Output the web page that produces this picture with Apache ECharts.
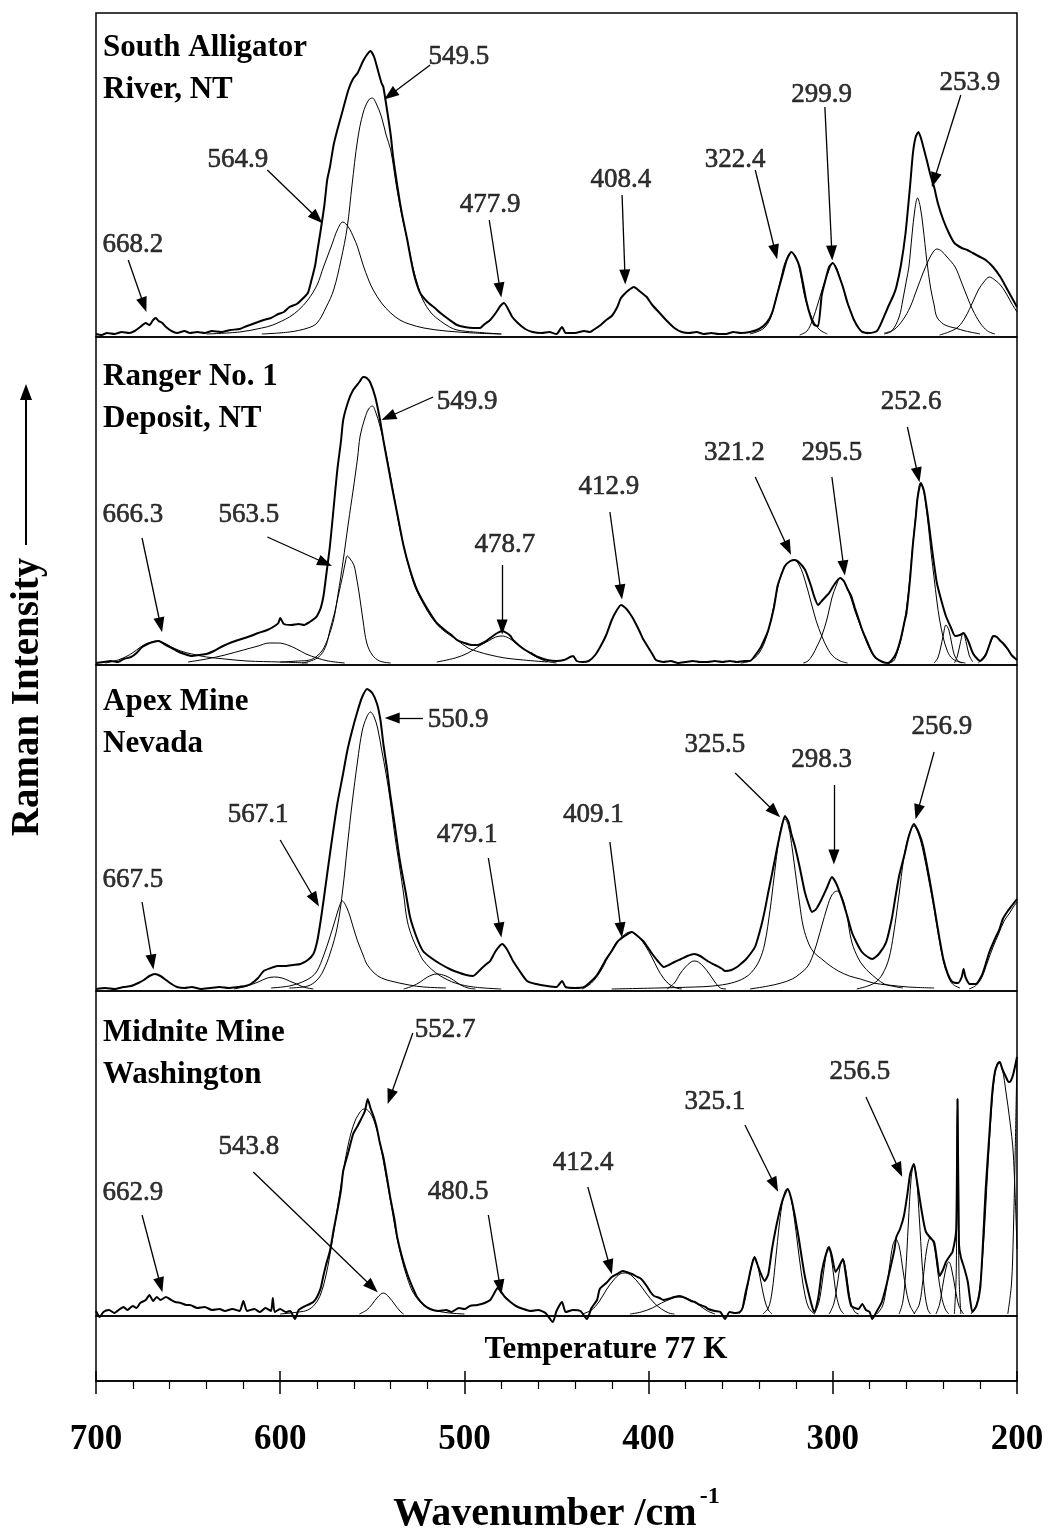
<!DOCTYPE html>
<html><head><meta charset="utf-8">
<script src="https://cdn.jsdelivr.net/npm/echarts@6/dist/echarts.min.js"></script>
<style>html,body{margin:0;padding:0;background:#fff}#c{width:1048px;height:1533px}</style>
</head><body><div id="c"></div>
<script>
const FONT = '"Liberation Serif", "Times New Roman", serif';

const xTickValues = [700, 600, 500, 400, 300, 200];
const panelTitles = ['South Alligator\nRiver, NT', 'Ranger No. 1\nDeposit, NT', 'Apex Mine\nNevada', 'Midnite Mine\nWashington'];

// ---------- Panel 1 : South Alligator River ----------
const p1Observed = [[700,1],[697,0],[694,2],[690,1],[686,3],[682,2],[679,4],[676,8],[673,12],[671,10],[669,15],[667.5,17],[666,14],[664,12],[662,8],[659,4],[656,2],[652,4],[649,2],[645,3],[641,2],[637,4],[632,3],[627,5],[622,6],[618,9],[615,11],[612,13],[609,15],[605,17],[601,21],[598,23],[595,28],[591,31],[588,36],[585,42],[583,55],[581,70],[580,82],[578,105],[576,130],[574.5,155],[573,168],[571,190],[569,205],[566,225],[563,245],[560.5,256],[558,262],[555,274],[553,280],[551,284],[549,278],[547,265],[545,252],[544,248],[542,225],[540,200],[538.7,178],[536.5,150],[534,122],[531,95],[529,75],[527,58],[524,42],[520,33],[516,27],[513,22],[508,15],[504,10],[500,8],[495,7],[491.5,7],[489,11],[486,15],[483,22],[480.5,29],[478.5,32],[476,25],[474,18],[471,12],[467,6],[463,3],[458,2],[454,3],[450,1],[447,8],[445,2],[440,2],[435,4],[432,3],[430,5],[426,10],[423,15],[420,19],[417,28],[415,37],[412,43],[410,46],[408,48],[405,44],[403,41],[401,38],[398,30],[394,22],[390,14],[386,7],[382,3],[378,2],[374,3],[370,1],[366,2],[362,1],[358,1],[354,3],[350,2],[345,3],[340,6],[336,12],[333,22],[330,42],[327,62],[325,75],[322.5,83],[320,77],[318,68],[316,50],[314.5,35],[312,18],[310,10],[308,9],[306,40],[304,55],[302,68],[300,72],[298,66],[296,56],[294.5,48],[292,32],[290,22],[288.5,15],[286,7],[284,3],[280,2],[276,4],[273,15],[270,28],[267,40],[265.5,48],[263,70],[260.5,102],[258,150],[256.5,182],[255,198],[253.5,203],[252,196],[250,182],[249,175],[247,160],[245,148],[243,132],[240,115],[237,102],[234,92],[230,87],[227,85],[224,82],[220,78],[217,75],[213,68],[209,58],[206,48],[203,38],[200,28]];
const p1Band5649 = [[640,1],[622,3],[610,7],[604,10],[595,18],[590,25],[585,35],[580,50],[576.5,68],[572,90],[569,105],[566,113],[563,108],[560,97],[558,88],[555,70],[552,55],[549.5,45],[545,32],[540,22],[535,15],[530,11],[522,7],[510,4],[495,2],[480,1]];
const p1Band5495 = [[610,1],[595,3],[585,7],[580,12],[575,28],[571,45],[567,75],[563.6,108],[561,150],[558,195],[555,222],[552,235],[550,237],[548,232],[545,218],[542.5,200],[540,185],[537,150],[534,120],[531,95],[528,68],[525,48],[522.5,35],[518,22],[513,14],[508,8],[504,5],[495,3],[480,1]];
const p1Band3224 = [[345,1],[338,6],[334,16],[331,35],[328,58],[326,72],[322.4,83],[320,78],[318,65],[316,45],[314,30],[312,20],[310,12],[307,5],[303,1]];
const p1Band2999 = [[318,0],[314,4],[311,15],[308,32],[305,50],[302,65],[300,72],[298,67],[296,56],[294,45],[292,32],[290,22],[288,13],[285,5],[281,1]];
const p1Band2539 = [[272,1],[268,4],[264,18],[262,35],[260,55],[258.7,68],[257,100],[255.5,125],[254,137],[252.5,128],[251,108],[249,75],[247,48],[245,30],[243.5,18],[240,11],[236,8],[233.6,7],[228,4],[220,1]];
const p1Band243 = [[272,2],[267,5],[262,15],[258,28],[254.5,45],[251,62],[248,75],[245.5,83],[243.5,86],[241,84],[238,78],[233.6,68],[230,52],[227,38],[224,25],[220,12],[216,4],[212,1]];
const p1Band215 = [[242,0],[237,3],[232,8],[228,18],[224,33],[221,45],[218,53],[215,58],[212,55],[209,50],[206,42],[203,32],[200,23]];
const p1Labels = [[680,90,'668.2'],[623,175,'564.9'],[503,278,'549.5'],[486,130,'477.9'],[415,155,'408.4'],[353,175,'322.4'],[306,240,'299.9'],[225.6,252,'253.9']];
const p1Arrows = [[682.5,75,674,30],[607,165,580,117],[518.6,270,540.3,240],[486.5,115,480.6,45],[414.4,140,412.8,58],[342.1,165,331.2,83],[304.3,228,300.5,82],[230.5,240,245,155]];

// ---------- Panel 2 : Ranger No. 1 Deposit ----------
const p2Observed = [[700,0],[696,1],[692,2],[688,1],[685,4],[681,6],[678,10],[675,16],[672,19],[669,21],[666,22],[663,19],[660,16],[656,12],[652,9],[648,7],[644,8],[640,9],[636,12],[631,17],[626,21],[621,24],[616,27],[612,30],[607,33],[603,37],[601,40],[600,45],[598,39],[594,38],[590,39],[587,38],[584,41],[581,45],[580,47],[578,55],[576.5,67],[575,88],[573,117],[571,155],[569,193],[567,222],[565.8,243],[563,262],[560.4,273],[557,281],[555,286],[553,285],[551,280],[548.4,266],[546,245],[544,223],[541.5,198],[539,173],[536,145],[533,117],[529.5,93],[525.7,73],[522,60],[518,48],[515,40],[510,32],[507,28],[504,23],[500,20],[496,18],[493,18],[489,21],[486,25],[483,29],[479.5,32],[477,30],[475,27],[473.6,23],[470,17],[467,13],[464,10],[460,6],[455,3],[450,2],[446,3],[441,7],[439,2],[436,1],[432.5,2],[429,8],[426,17],[423,28],[420,43],[417.5,52],[415,58],[412,54],[410,49],[408,43],[405,32],[403,24],[401,18],[398,9],[396,3],[392,1],[388,2],[384,0],[380,1],[376,2],[372,1],[368,1],[364,2],[360,1],[356,2],[352,1],[348,2],[345,2],[342,8],[339,16],[337,24],[335,33],[332,55],[330,77],[328,88],[326,97],[323,102],[320.6,103],[318,100],[315,93],[312,78],[310,66],[308,58],[306,62],[304,66],[302,70],[299,79],[296,85],[294,82],[292,74],[290,67],[288,55],[286,44],[284,33],[281,20],[278.6,10],[276.6,5],[273,1],[270,0],[267.9,3],[265.5,10],[263,25],[261,42],[260,50],[258,85],[256.6,117],[255,145],[254,165],[252.2,180],[250.5,172],[248.4,147],[246,112],[243.5,80],[241,62],[238.6,47],[236,36],[233.6,27],[231,28],[229,30],[226.5,22],[224,10],[222,5],[220,2],[217,8],[215,18],[213,27],[211,26],[209,22],[207.7,20],[205,14],[203,8],[200,3]];
const p2Band6663 = [[695,0],[688,3],[682,8],[678,13],[674,18],[670,21],[666.5,22],[663,20],[659,16],[654,12],[648,9],[640,6],[630,4],[618,2],[600,1],[585,0]];
const p2Band605 = [[650,1],[640,4],[630,8],[620,13],[612,17],[606,20],[601,20],[596,18],[591,14],[586,9],[580,5],[574,2],[565,0]];
const p2Band5635 = [[588,0],[582,3],[578,8],[575,18],[573,33],[570.5,50],[568.5,67],[566,88],[564.5,102],[563.6,107],[562,104],[560,98],[559,90],[557,68],[555,42],[553,20],[550,8],[546,2],[540,0]];
const p2Band5499 = [[600,1],[590,2],[584,3],[580,7],[577,13],[574,25],[571,43],[568.5,70],[566,100],[563,140],[560.4,173],[558,205],[556.6,227],[554,245],[552,254],[550,257],[548,250],[546,238],[544,223],[541,195],[538,165],[535.5,138],[533,117],[530,95],[527,77],[522.5,60],[518,46],[513,35],[508,28],[504,23],[498,15],[492,11],[486,8],[478,5],[468,3],[455,1]];
const p2Band4787 = [[515,1],[505,5],[498,10],[492,17],[487,22],[483,26],[479.5,27],[476,25],[472,20],[467,13],[462,7],[456,2],[450,0]];
const p2Band3212 = [[350,0],[345,2],[340,10],[336,26],[333,48],[330,75],[327,93],[324,101],[321.2,103],[318,97],[315,82],[312,62],[309,42],[306,27],[303,15],[300,7],[296,2],[292,0]];
const p2Band2955 = [[316,0],[313.5,2],[311,8],[308.5,17],[306,27],[303,45],[300.5,65],[298,78],[296,85],[294,82],[292,74],[290,64],[288,52],[286,42],[284,32],[281,18],[278.5,9],[276,4],[272,1]];
const p2Band2526 = [[270,0],[267,2],[265.5,8],[263,23],[261,42],[259,70],[257,110],[255,148],[253.5,172],[252.5,180],[251,175],[249.5,158],[248,135],[246.5,108],[245,85],[243.5,62],[242,43],[240,25],[238,13],[236,6],[233,2],[228,0]];
const p2Band239 = [[245,0],[243,5],[241.5,15],[240,28],[238.6,38],[237,33],[235.5,20],[234,8],[232,2],[230,0]];
const p2Band229 = [[234,0],[232.5,6],[231,18],[229.2,30],[227.5,20],[226,8],[224,1]];
const p2Band212 = [[221,0],[218,6],[215.5,15],[213.5,24],[212,27],[210,25],[208,20],[205,13],[202.5,7],[200,3]];
const p2Labels = [[680,148,'666.3'],[617,148,'563.5'],[498.5,261,'549.9'],[478,118,'478.7'],[421.5,176,'412.9'],[353.5,210,'321.2'],[300.5,210,'295.5'],[257.5,261,'252.6']];
const p2Arrows = [[675,125,665,38],[607,126,575.6,100],[517,266,541.3,246],[479.5,98,479.5,36],[421,151,415,71],[342.1,186,324.4,115],[300.5,186,294,95],[259.5,236,253.8,188]];

// ---------- Panel 3 : Apex Mine ----------
const p3Observed = [[700,0],[695,1],[690,0],[685,2],[681,3],[677,6],[674,9],[671,13],[668,15],[665,13],[662,9],[659,5],[656,2],[652,1],[648,2],[643,0],[638,1],[633,2],[628,1],[623,2],[619,3],[616,5],[612,11],[609,18],[605,21],[601.6,23],[597,23],[593,24],[589,25],[585,29],[582,35],[580,47],[578.3,65],[576.5,88],[574.5,115],[572,148],[569,185],[566,214],[563.6,238],[561,258],[558,278],[555.5,292],[552.8,300],[550,296],[547.4,285],[545.5,268],[544,245],[542,220],[540.3,195],[537.5,160],[535,128],[532,98],[529.5,72],[526,52],[522.5,38],[518,31],[513,25],[508,20],[504,17],[499,14],[495.3,13],[491,20],[488,25],[486,28],[483,38],[479.5,45],[477,40],[475,33],[473.6,28],[470,18],[466,8],[461,5],[455,3],[450,2],[447,8],[445,2],[440,1],[435,2],[431,8],[428,14],[426,20],[423,30],[420,38],[417,47],[413,53],[409,57],[406,53],[403,48],[401,43],[398,35],[395,28],[391.7,22],[389,24],[386,27],[382.4,30],[379,33],[375.3,35],[372,33],[368,28],[364,24],[360,20],[358.5,18],[355,19],[352,22],[350,25],[347,30],[344,37],[342,43],[339,62],[337,78],[335,97],[333,115],[330,143],[328,160],[326,173],[324,167],[322.5,155],[320.6,143],[318,122],[315.2,97],[313,84],[311.3,77],[309,80],[306,90],[303,102],[300.5,112],[298,105],[295,90],[292,72],[289.7,57],[287,46],[284.2,37],[281,32],[278.6,30],[275,35],[271,47],[268,70],[266,92],[264,113],[261,135],[258.7,153],[256,165],[253.5,157],[251,143],[248,115],[245,83],[242.5,55],[240,30],[237.5,15],[235,7],[232,6],[230,12],[229,20],[228,12],[225.6,5],[222.4,5],[219,14],[217,25],[215,37],[212,50],[209.5,60],[207.7,70],[205,78],[202.5,84],[200,90]];
const p3Band600 = [[625,0],[618,3],[612,7],[607,11],[603,12],[599,11],[595,8],[591,5],[587.5,2],[582,0]];
const p3Band5671 = [[605,1],[595,3],[588,7],[583,12],[580,18],[576.5,33],[573,52],[570,70],[568,82],[566.3,88],[564,82],[562,72],[560.4,62],[558,48],[555,34],[553,25],[549,16],[545,11],[540,8],[530,4],[522,2],[510,1]];
const p3Band5509 = [[595,1],[585,3],[580,9],[576.7,18],[573,35],[569,62],[566,100],[563.6,142],[561,185],[558,228],[555.5,258],[553,272],[551,277],[549,272],[547,260],[545,240],[542.5,215],[540.3,189],[537.5,150],[535,120],[533,95],[531,68],[528,50],[525,38],[522.5,29],[518,20],[513,13],[505,6],[495,2],[480,0]];
const p3Band515 = [[533,0],[528,3],[524,7],[520,12],[515,15],[510,13],[506,9],[502,4],[498,1],[494,0]];
const p3Band4091 = [[436,0],[431,6],[426,18],[422,32],[418,45],[414,53],[410,57],[406,53],[402,44],[398,31],[395,20],[392,11],[389,5],[385,1],[382,0]];
const p3Band375 = [[390,0],[386,6],[383,15],[380,22],[377,27],[375.3,28],[373,27],[370,22],[367,15],[364,7],[361,1],[358,0]];
const p3Band3255 = [[420,0],[395,1],[375,2],[365,3],[355,6],[348,11],[344,17],[340,28],[337,45],[334,80],[332,110],[330,140],[328,162],[326,170],[324,162],[322,140],[320,112],[318,85],[316,62],[313,45],[310,36],[306,30],[302,24],[297,18],[291,13],[285,10],[278,6],[270,4],[259,2],[245,1]];
const p3Band2983 = [[345,0],[335,3],[328,6],[322,10],[318,15],[313.5,23],[310,38],[308,50],[306,63],[303,82],[300.5,94],[297.8,98],[295,92],[292.5,75],[289.7,47],[286,30],[283,22],[280.4,17],[276,10],[272,5],[268,3],[262,1]];
const p3Band2569 = [[287,0],[281,3],[276.6,7],[273,15],[269.6,30],[267,55],[264,95],[261.5,130],[259,152],[256,163],[253.5,155],[251,138],[248,110],[245,80],[242.5,52],[240,28],[237.5,13],[235,5],[231,1]];
const p3Band200 = [[226,0],[222,4],[219,12],[216,27],[213,42],[210,55],[207,68],[204,76],[202,82],[200,87]];
const p3Labels = [[680,109,'667.5'],[612,174,'567.1'],[503.4,269,'550.9'],[498.5,154,'479.1'],[430,174,'409.1'],[364,244,'325.5'],[306,229,'298.3'],[240.8,262,'256.9']];
const p3Arrows = [[675,87,669.5,27],[600,149,581,89],[522.5,271,539.2,271],[487,131,480.6,59],[421,147,415,59],[353,216,331.5,177],[299.4,204,299.4,132],[245,237,254,177]];

// ---------- Panel 4 : Midnite Mine ----------
const p4Observed = [[700,3],[698,-3],[696,2],[693,4],[690,1],[687,5],[685,7],[683,4],[680,8],[678,6],[676,11],[673,14],[671,19],[669,13],[667,17],[665,14],[662,17],[660,15],[657,12],[654,11],[651,9],[649,9],[645,6],[641,7],[637,4],[633,5],[630,3],[626,5],[622,3],[620,13],[618,3],[614,5],[611,2],[608,6],[605,3],[604,16],[603,2],[600,5],[597,2],[594.6,3],[592,-5],[590,4],[587.5,7],[584,10],[582,12],[580,17],[578,26],[576.7,37],[575,50],[573,63],[571,84],[569,103],[567,124],[565.8,143],[563,162],[560.4,180],[558,188],[556.6,193],[554,203],[552.5,215],[551,206],[549,196],[547.4,185],[546,172],[544,157],[542,136],[540.3,117],[538,95],[536.5,77],[534,58],[531,40],[528,26],[525.7,17],[522,9],[518.6,5],[514,3],[510,4],[507,2],[503,6],[500,5],[497,8],[493,9],[489,11],[486,14],[484,20],[482,26],[480,22],[478,17],[475,12],[472,8],[468,5],[464,3],[460,4],[456,1],[452,-8],[450,3],[447,12],[445,2],[441,4],[437,3],[433.5,-5],[431,6],[428,14],[426.5,25],[423,31],[420,37],[417,40],[414,43],[412,42],[409,40],[406,37],[404,35],[401,28],[399,22],[397,18],[394,16],[392,14],[389.5,15],[386,17],[383,18],[380,16],[377,13],[375,12],[372,9],[369,7],[367.7,5],[364,3],[361,2],[358.5,-5],[356,2],[353,1],[350.5,2],[349,6],[347.5,20],[346,32],[344.5,45],[342.5,57],[341,50],[339,40],[337,33],[335,40],[333,65],[331,85],[329,102],[327.6,112],[326,120],[324.4,125],[322.5,115],[320.6,98],[318.5,76],[317,58],[315.2,38],[313,20],[311,6],[310,2],[308,15],[307,28],[306,42],[304,58],[302,67],[300.5,58],[298.5,42],[296.5,48],[294.5,55],[293,40],[291.5,20],[290,8],[288,6],[286,5],[284,10],[282,4],[280,2],[278.6,-5],[276,3],[273.4,12],[271,28],[269.5,40],[268,52],[266.5,65],[265.5,77],[263.5,85],[261.4,98],[259.5,120],[258,140],[256,150],[254.5,135],[252.2,108],[250.5,90],[249.4,82],[247,76],[245,72],[243.5,55],[242,38],[240,45],[238.6,52],[236.5,58],[235,62],[233,85],[232.3,215],[231.5,70],[230.5,57],[228.5,45],[226.7,32],[225.5,15],[224.2,2],[222,8],[220,25],[218.5,70],[217,125],[215,180],[213.5,220],[212,242],[210.5,250],[209.3,252],[208,245],[206,237],[204.5,232],[203.4,233],[202,240],[200,257]];
const p4Band5527 = [[600,0],[590,2],[585,4],[581,10],[578,20],[575,40],[572,70],[569,105],[566,140],[563,170],[560,190],[557,201],[554.5,205],[552,203],[549,193],[546,172],[543,143],[540,112],[537,80],[534,55],[531,36],[528,22],[524,12],[520,6],[515,3],[508,1],[500,0]];
const p4Band5438 = [[557,0],[553,4],[550,10],[547,17],[544,21],[541,17],[538,10],[535,3],[533,0]];
const p4Band4124 = [[436,0],[431,4],[427,12],[423,24],[419,34],[415.5,40],[412.5,41],[409,38],[405,30],[401,20],[397,11],[393,5],[389,1],[386,0]];
const p4Band385 = [[410,0],[404,2],[398,6],[393,11],[388,15],[384,17],[380,16],[376,13],[372,8],[368,3],[364,0]];
const p4Band343 = [[351,0],[348.5,8],[346,30],[344,50],[342.5,57],[341,50],[339,32],[337,14],[335,4],[333,0]];
const p4Band3251 = [[338,0],[335,6],[333,22],[331,55],[329,90],[327,115],[325,125],[323,118],[321,97],[319,68],[317,40],[315,18],[313,6],[310,0]];
const p4Band303 = [[310,0],[307.5,12],[305.5,35],[304,55],[302.5,67],[301,58],[299.5,38],[298,18],[296,5],[294,0]];
const p4Band295 = [[302,0],[299.5,10],[297.5,30],[296,48],[294.5,55],[293,45],[291.5,25],[290,10],[288,2],[286,0]];
const p4Band265 = [[276,0],[273,8],[271,25],[269,50],[267.5,68],[265.8,75],[264,68],[262,45],[260,22],[258,8],[255.5,0]];
const p4Band2565 = [[264,0],[262,12],[260.5,40],[259,90],[257.5,135],[256,150],[254.5,135],[253,95],[251.5,50],[250,20],[248.5,5],[247,0]];
const p4Band248 = [[256,0],[253,10],[251,35],[249,65],[247,77],[245,68],[243,42],[241,18],[239,5],[237,0]];
const p4Band237 = [[244,0],[242,10],[240,32],[238,50],[237,52],[235.5,45],[233.5,25],[231.5,8],[229,0]];
const p4Band232 = [[234,0],[233,40],[232.3,215],[231.5,40],[230.5,0]];
const p4Band210 = [[225,0],[222,10],[220,30],[218,75],[216,140],[214,200],[212,240],[210,252],[208,245],[206,222],[204,195],[202,160],[200,65]];
const p4Band200 = [[205,0],[203,30],[202,80],[201,160],[200,257]];
const p4Labels = [[680,121,'662.9'],[617,167,'543.8'],[510.5,284,'552.7'],[503.4,122,'480.5'],[435.6,151,'412.4'],[364,212,'325.1'],[285.3,242,'256.5']];
const p4Arrows = [[675,99,665,29],[614.6,142,550,27],[528,281,540.3,217],[487,99,480.6,27],[433,127,421,47],[347.7,189,331.5,129],[282,217,264,144]];

// ---------- build ----------
const panels = [
  {obs: p1Observed, bands: [p1Band5649, p1Band5495, p1Band3224, p1Band2999, p1Band2539, p1Band243, p1Band215], labels: p1Labels, arrows: p1Arrows},
  {obs: p2Observed, bands: [p2Band6663, p2Band605, p2Band5635, p2Band5499, p2Band4787, p2Band3212, p2Band2955, p2Band2526, p2Band239, p2Band229, p2Band212], labels: p2Labels, arrows: p2Arrows},
  {obs: p3Observed, bands: [p3Band600, p3Band5671, p3Band5509, p3Band515, p3Band4091, p3Band375, p3Band3255, p3Band2983, p3Band2569, p3Band200], labels: p3Labels, arrows: p3Arrows},
  {obs: p4Observed, bands: [p4Band5527, p4Band5438, p4Band4124, p4Band385, p4Band343, p4Band3251, p4Band303, p4Band295, p4Band265, p4Band2565, p4Band248, p4Band237, p4Band232, p4Band210, p4Band200], labels: p4Labels, arrows: p4Arrows}
];

const LEFT = 96, RIGHT = 31;
const layout = [
  {top: 13, bottom: 337, base: 335},
  {top: 337, bottom: 665, base: 663},
  {top: 665, bottom: 991, base: 989},
  {top: 991, bottom: 1316, base: 1314}
];
const tempBox = {top: 1316, bottom: 1381};

const grid = [], xAxis = [], yAxis = [], series = [], title = [];
layout.forEach((L, i) => {
  grid.push({left: LEFT, right: RIGHT, top: L.top, height: L.bottom - L.top, show: true, outerBoundsMode: 'none', containLabel: false,
    borderColor: '#000', borderWidth: 1.5, backgroundColor: 'transparent'});
  xAxis.push({type: 'value', gridIndex: i, min: 200, max: 700, inverse: true, show: false});
  yAxis.push({type: 'value', gridIndex: i, min: -(L.bottom - L.base), max: L.base - L.top, show: false});
  title.push({text: panelTitles[i], left: 103, top: L.top + [14, 19, 16, 21][i], padding: 0,
    textStyle: {fontFamily: FONT, fontSize: 31, fontWeight: 'bold', lineHeight: 42, color: '#000'}});
});
grid.push({left: LEFT, right: RIGHT, top: tempBox.top, height: tempBox.bottom - tempBox.top, show: true, outerBoundsMode: 'none', containLabel: false,
  borderColor: '#000', borderWidth: 1.5});
xAxis.push({type: 'value', gridIndex: 4, min: 200, max: 700, interval: 100, inverse: true, position: 'bottom',
  axisLine: {show: true, lineStyle: {color: '#000', width: 1.5}},
  axisTick: {show: true, length: 13, inside: false, lineStyle: {color: '#000', width: 1.5}},
  minorTick: {show: true, splitNumber: 5, length: 8, lineStyle: {color: '#000', width: 1.2}},
  splitLine: {show: false},
  axisLabel: {show: true, margin: 41, fontFamily: FONT, fontSize: 35, fontWeight: 'bold', color: '#000',
    showMinLabel: true, showMaxLabel: true, formatter: v => String(xTickValues.find(t => t === v) ?? v)},
  name: '{a|Wavenumber /cm}{b|-1}', nameLocation: 'middle', nameGap: 104,
  nameTextStyle: {rich: {
    a: {fontFamily: FONT, fontSize: 40, fontWeight: 'bold', color: '#000', lineHeight: 50, verticalAlign: 'bottom'},
    b: {fontFamily: FONT, fontSize: 24, fontWeight: 'bold', color: '#000', lineHeight: 24, verticalAlign: 'top', padding: [0, 0, 0, 3]}
  }}
});
xAxis.push({type: 'value', gridIndex: 4, min: 200, max: 700, interval: 100, inverse: true, position: 'bottom',
  axisLine: {show: false}, axisTick: {show: true, length: 10, inside: true, lineStyle: {color: '#000', width: 1.5}},
  axisLabel: {show: false}, splitLine: {show: false}});
yAxis.push({type: 'value', gridIndex: 4, min: 0, max: 1, show: false});

panels.forEach((p, i) => {
  series.push({type: 'line', xAxisIndex: i, yAxisIndex: i, data: p.obs, symbol: 'none', showSymbol: false,
    smooth: 0.2, clip: false, z: 4, lineStyle: {color: '#000', width: 2}, emphasis: {disabled: true}});
  p.bands.forEach(b => series.push({type: 'line', xAxisIndex: i, yAxisIndex: i, data: b, symbol: 'none', showSymbol: false,
    smooth: 0.35, clip: false, z: 3, lineStyle: {color: '#000', width: 1}, emphasis: {disabled: true}}));
  series.push({type: 'scatter', xAxisIndex: i, yAxisIndex: i, symbol: 'circle', symbolSize: 1, z: 5,
    itemStyle: {color: 'rgba(0,0,0,0)'}, emphasis: {disabled: true},
    data: p.labels.map(l => ({value: [l[0], l[1]], name: l[2]})),
    label: {show: true, position: 'inside', formatter: '{b}', fontFamily: FONT, fontSize: 27, color: '#000',
      textBorderColor: '#000', textBorderWidth: 0.6},
    markLine: {silent: true, animation: false, symbol: ['none', 'triangle'], symbolSize: [11, 15],
      label: {show: false}, emphasis: {disabled: true},
      lineStyle: {color: '#000', width: 1.3, type: 'solid'},
      data: p.arrows.map(a => [{coord: [a[0], a[1]]}, {coord: [a[2], a[3]]}])}
  });
});

const chart = echarts.init(document.getElementById('c'), null, {renderer: 'canvas'});
chart.setOption({
  animation: false,
  backgroundColor: '#fff',
  textStyle: {fontFamily: FONT},
  title, grid, xAxis, yAxis, series,
  graphic: [
    {type: 'text', x: 606, y: 1350, silent: true,
      style: {text: 'Temperature 77 K', font: 'bold 31px "Liberation Serif"', fill: '#000', align: 'center', verticalAlign: 'middle'}},
    {type: 'text', x: 28, y: 697, rotation: Math.PI / 2, silent: true,
      style: {text: 'Raman Intensity', font: 'bold 39px "Liberation Serif"', fill: '#000', align: 'center', verticalAlign: 'middle'}},
    {type: 'line', silent: true, shape: {x1: 26, y1: 545, x2: 26, y2: 396}, style: {stroke: '#000', lineWidth: 2}},
    {type: 'polygon', silent: true, shape: {points: [[26, 384], [20, 400], [32, 400]]}, style: {fill: '#000'}}
  ]
});
</script></body></html>
